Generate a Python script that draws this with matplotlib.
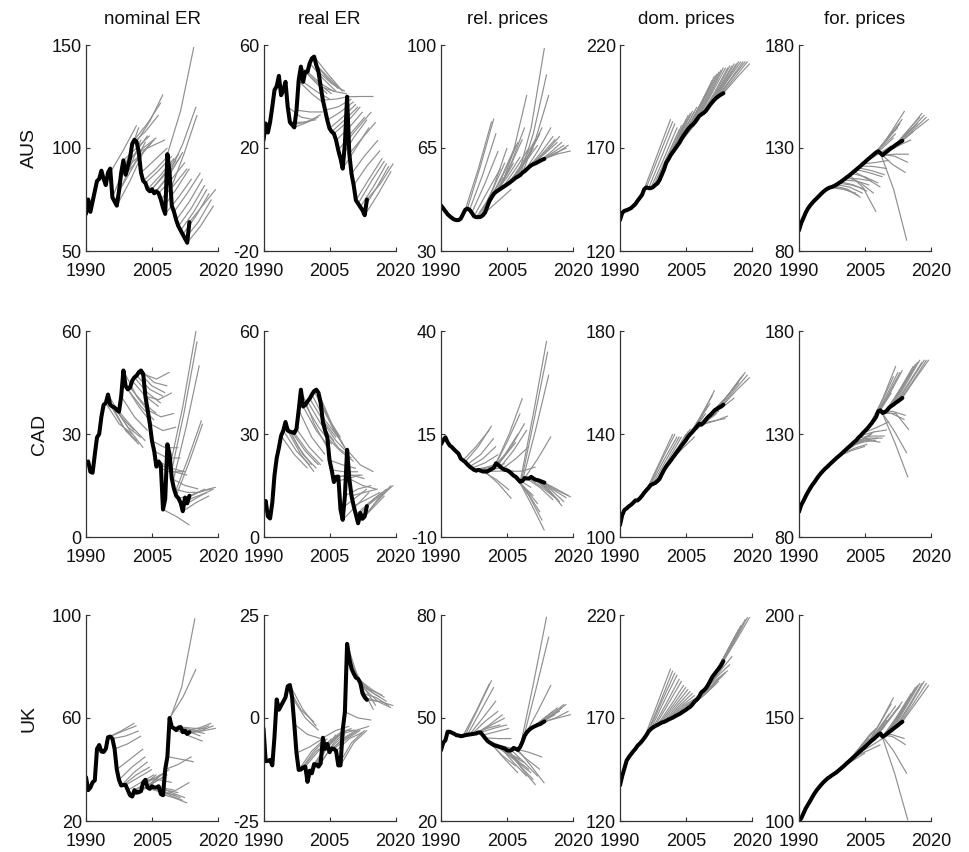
import numpy as np
import matplotlib
matplotlib.use("Agg")
import matplotlib.pyplot as plt

plt.rcParams['font.family'] = ['Liberation Sans', 'DejaVu Sans']
plt.rcParams['axes.unicode_minus'] = False

# ---------------- data ----------------
YEARS = np.arange(1990.0, 2013.51, 0.5)   # half-yearly observations
HORIZON = 6.0                              # forecast horizon (years)

COL_TITLES = ['nominal ER', 'real ER', 'rel. prices', 'dom. prices', 'for. prices']
ROW_LABELS = ['AUS', 'CAD', 'UK']
XTICKS = [1990, 2005, 2020]
YTICKS = [
    [[50, 100, 150], [-20, 20, 60], [30, 65, 100], [120, 170, 220], [80, 130, 180]],
    [[0, 30, 60], [0, 30, 60], [-10, 15, 40], [100, 140, 180], [80, 130, 180]],
    [[20, 60, 100], [-25, 0, 25], [20, 50, 80], [120, 170, 220], [100, 150, 200]],
]

# realised series (black)
AUS_NOM = [68, 75, 69, 74, 79, 84, 85, 89, 85, 82,
           88, 90, 76, 74, 72, 79, 88, 94, 87, 91,
           95, 102, 104, 103, 98, 88, 84, 83, 80, 79,
           80, 78, 79, 78, 75, 71, 68, 97, 88, 72,
           69, 65, 62, 60, 58, 56, 54, 64]
AUS_REAL = [23, 29.5, 26, 30, 36, 42.5, 44, 48, 40.5, 42.5,
            45.7, 36, 30, 29, 28, 34.7, 46.4, 51.6, 45.7, 49.6,
            49.6, 52.9, 54.8, 55.5, 52.2, 49.6, 43.8, 38.6, 34.7, 30.8,
            27.6, 26.3, 25.6, 23, 19.1, 15.9, 12, 21.7, 39.9, 17.8,
            10, 5.5, -0.3, -1.6, -2.9, -4.2, -6.1, 0]
AUS_REL = [45.5, 44.5, 43.5, 42.5, 41.8, 41.2, 40.7, 40.5, 40.5, 41,
           42.5, 44, 44.4, 44, 43, 41.8, 41.5, 41.5, 41.6, 42.1,
           43, 45, 47, 48.3, 49.4, 50.1, 50.6, 51.1, 51.6, 52.1,
           52.6, 53.1, 53.7, 54.3, 54.9, 55.3, 55.8, 56.6, 57.1, 57.8,
           58.5, 59.1, 59.5, 59.8, 60.2, 60.6, 61, 61.3]
AUS_DOM = [135, 138.5, 139.5, 139.8, 140.3, 140.8, 141.8, 142.8, 144.4, 145.8,
           147.2, 150, 150.9, 150.5, 150.5, 151, 152, 152.8, 154.5, 157,
           159.5, 162.8, 164.5, 166.5, 168, 169.5, 171, 172.5, 174.5, 176.2,
           177.7, 179.2, 180.5, 181.3, 182.5, 184, 185.5, 186.3, 187, 188,
           189.5, 191, 192.3, 193.5, 194.5, 195.3, 196, 196.6]
AUS_FOR = [90, 93.5, 96, 98.5, 100.5, 102, 103.3, 104.5, 105.5, 106.6,
           107.7, 108.7, 109.6, 110.3, 110.8, 111.1, 111.6, 112.2, 112.9, 113.6,
           114.4, 115.2, 116, 116.8, 117.7, 118.6, 119.5, 120.4, 121.3, 122.3,
           123.2, 124.2, 125.1, 126, 126.9, 127.8, 128.4, 127.5, 126.5, 127.5,
           128.3, 129.2, 130, 130.7, 131.5, 132.2, 132.9, 133.5]

CAD_NOM = [21.5, 22, 19, 18.7, 24, 29, 30, 35, 38.5, 39,
           41.5, 38.5, 38, 37.7, 37, 36.5, 41, 48.5, 44, 43,
           43.5, 45.5, 46.5, 47, 48, 48.5, 47.5, 41, 37, 33,
           28, 25, 20.5, 22, 21, 8, 11, 27, 24, 17,
           14, 12, 11.3, 10, 7.5, 11.5, 9.8, 12]
CAD_REAL = [8.8, 10.5, 6, 5.4, 10, 18, 23, 26, 29.5, 31,
            33.5, 31, 30.7, 30.5, 30.3, 31.5, 37, 42.9, 38, 38.5,
            39.5, 40.3, 41.5, 42.5, 42.9, 42, 39, 33.5, 31, 29,
            22.4, 19.5, 16, 17.5, 17.6, 8, 5, 12, 25.4, 17,
            12, 9, 6.5, 4, 7, 5.3, 6, 9]
CAD_REL = [12.5, 13.5, 14.2, 13, 12.2, 11.8, 11.2, 10.7, 10.2, 9,
           8.6, 8.2, 7.6, 7.1, 6.7, 6.3, 6.1, 6.3, 6.1, 5.9,
           5.9, 5.9, 6.2, 6.5, 6.8, 7.9, 7.5, 7, 6.6, 6.3,
           6.2, 5.9, 5.4, 4.9, 4.6, 4, 3.4, 3.6, 4.3, 4.2,
           4.2, 4.6, 4.2, 3.9, 3.8, 3.6, 3.4, 3.2]
CAD_DOM = [104.6, 108.5, 110.5, 111.1, 111.9, 112.5, 113.3, 114.2, 114.2, 115,
           116, 117.2, 118.2, 119.1, 120.2, 120.6, 121, 121.7, 122.6, 124.4,
           126, 127.4, 128.5, 129.6, 130.8, 132, 133.2, 134.3, 135.5, 136.6,
           137.7, 139, 140, 140.9, 141.9, 142.9, 144, 143.6, 144.4, 145.5,
           146.6, 147.3, 148.2, 149.2, 149.7, 150.3, 150.7, 151.4]
CAD_FOR = [92.2, 95.5, 97.5, 99.7, 101.7, 103.5, 105.2, 106.6, 108.2, 109.7,
           111, 112.2, 113.3, 114.2, 115.3, 116.3, 117.3, 118.3, 119.2, 120.1,
           121.1, 122.1, 123.1, 124, 125, 126, 126.9, 128.2, 129.2, 130.4,
           131.5, 132.6, 133.9, 135.2, 136.7, 138.2, 141, 141.5, 140.2, 140.6,
           141.5, 142.8, 143.6, 144.3, 145.2, 145.9, 146.7, 147.5]

UK_NOM = [37, 32, 33, 35, 35.8, 48, 49.5, 47, 46.8, 48,
          52.5, 52.8, 52, 48, 40, 36, 33.8, 34, 34, 32,
          30, 29.5, 32, 31, 31.2, 31.6, 35, 36, 33, 32.5,
          33.5, 33, 33, 33.5, 30.5, 30, 40, 45, 60, 56.5,
          56, 55.3, 56.3, 56.5, 54.5, 55, 53.8, 54.5]
UK_REAL = [-2.5, -10.5, -10.4, -10.2, -11.5, -4.5, 4.5, 2, 3, 4,
           5, 7.7, 8, 5, -1.5, -8.5, -12.6, -12.5, -12, -11.8,
           -15.5, -12.8, -13.4, -11.2, -11.3, -11.8, -11, -4.8, -7.5, -6.3,
           -8.3, -7.4, -7.5, -8, -11.5, -11.5, -3, 1.5, 18, 14.5,
           12, 10.8, 9.8, 9.5, 8.5, 6, 5, 4.4]
UK_REL = [40.6, 42.8, 43.5, 46, 46, 45.7, 45.4, 45, 44.9, 44.7,
          44.8, 45, 45.1, 45.2, 45.3, 45.4, 45.5, 45.8, 45.8, 45,
          44.2, 43.4, 42.9, 42.5, 42.1, 41.9, 41.7, 41.5, 41.3, 41.1,
          40.6, 40.5, 40.6, 41.3, 41, 40.7, 41.6, 43, 44.8, 45.8,
          46.5, 47, 47.4, 47.7, 48, 48.2, 48.6, 49]
UK_DOM = [137.3, 141.8, 145.5, 149.3, 151, 152.4, 153.8, 155, 156.6, 157.6,
          158.8, 160.2, 161.7, 163.5, 164.6, 165.4, 166.1, 166.6, 167.2, 167.8,
          168.1, 168.6, 169.2, 169.7, 170.2, 170.8, 171.4, 171.9, 172.6, 173.3,
          174, 174.8, 175.5, 176.7, 178.1, 179, 180.5, 182.5, 183.3, 184.4,
          186, 188, 190, 191.4, 192.8, 194.1, 195.6, 197.6]
UK_FOR = [100, 101.3, 103.6, 106, 107.8, 109.6, 111.5, 113.3, 114.9, 116.2,
          117.5, 118.7, 119.7, 120.7, 121.4, 122.2, 122.9, 123.6, 124.5, 125.4,
          126.3, 127.3, 128.3, 129.2, 130.2, 131.1, 132.1, 133.1, 134.1, 135,
          136, 137, 138, 139, 139.8, 140.8, 141.8, 142.5, 140.9, 141.5,
          142.4, 143.2, 144, 144.9, 145.7, 146.5, 147.4, 148.2]

# forecast paths (grey): (origin year, value at origin, value at +3y, value at +6y)
AUS_NOM_FC = [(1995.5, 88, 99, 111), (1996.0, 76, 92, 110), (1996.5, 74, 88, 104),
              (1997.0, 72, 84, 98), (1997.5, 79, 90, 103), (1998.0, 88, 97, 106),
              (1998.5, 94, 100, 106), (1999.0, 87, 95, 103), (1999.5, 91, 97, 104),
              (2000.0, 95, 100, 105), (2000.5, 102, 108, 116), (2001.0, 104, 112, 122),
              (2001.5, 103, 113, 126), (2002.0, 98, 101, 104), (2002.5, 88, 94, 100),
              (2003.0, 84, 90, 97), (2003.5, 83, 89, 96), (2004.0, 80, 87, 95),
              (2004.5, 79, 86, 94), (2005.0, 80, 88, 97), (2005.5, 78, 86, 96),
              (2006.0, 79, 87, 98), (2006.5, 78, 85, 93), (2007.0, 75, 82, 90),
              (2007.5, 71, 80, 90), (2008.0, 68, 76, 85), (2008.5, 97, 118, 149),
              (2009.0, 88, 102, 120), (2009.25, 80, 97, 116), (2010.0, 69, 78, 88),
              (2010.5, 65, 74, 85), (2011.0, 62, 71, 82), (2011.5, 60, 69, 80),
              (2012.0, 58, 67, 78), (2012.5, 56, 64, 75), (2013.0, 54, 62, 72),
              (2013.5, 64, 72, 80)]
AUS_REAL_FC = [(1995.5, 36, 32, 31), (1996.0, 30, 30, 31), (1996.5, 29, 30, 32),
               (1997.0, 28, 30, 33), (1997.5, 34.7, 34, 34), (1998.0, 46, 41, 37),
               (1998.5, 51.6, 46, 41), (1999.0, 45.7, 42, 39), (1999.5, 49.6, 45, 41),
               (2000.0, 49.6, 45, 42), (2000.5, 52.9, 47, 42), (2001.0, 54.8, 48, 43),
               (2001.5, 55.5, 49, 43), (2002.0, 52.2, 47, 42), (2002.5, 49.6, 45, 42),
               (2003.0, 43.8, 42, 41), (2003.5, 38.6, 39, 40), (2004.0, 34.7, 36, 39),
               (2004.5, 30.8, 34, 38), (2005.0, 27.6, 32, 37), (2005.5, 26.3, 31, 36),
               (2006.0, 25.6, 30, 36), (2006.5, 23, 28, 34), (2007.0, 19.1, 26, 32),
               (2007.5, 15.9, 24, 31), (2008.0, 12, 20, 28), (2008.5, 21.7, 28, 34),
               (2009.0, 39.9, 40, 40), (2009.5, 17.8, 24, 30), (2010.0, 10, 17, 23),
               (2010.5, 5.5, 13, 19), (2011.0, -0.3, 8, 16), (2011.5, -1.6, 7, 15),
               (2012.0, -2.9, 5, 14), (2012.5, -4.2, 4, 13), (2013.0, -6.1, 2, 11),
               (2013.5, 0, 6, 14)]
AUS_REL_FC = [(1995.5, 44, 58, 74), (1996.0, 44.4, 59, 75), (1996.5, 44, 56, 70),
              (1997.0, 43, 53, 64), (1997.5, 41.8, 50, 58), (1998.0, 41.5, 48, 55),
              (1998.5, 41.5, 50, 60), (1999.0, 41.6, 52, 65), (1999.5, 42.1, 50, 58),
              (2000.0, 43, 47, 51), (2000.5, 45, 52, 60), (2001.0, 47, 56, 66),
              (2001.5, 48.3, 57, 67), (2002.0, 49.4, 55, 62), (2002.5, 50.1, 58, 68),
              (2003.0, 50.6, 60, 72), (2003.5, 51.1, 64, 83), (2004.0, 51.6, 58, 65),
              (2004.5, 52.1, 57, 63), (2005.0, 52.6, 58, 65), (2005.5, 53.1, 60, 68),
              (2006.0, 53.7, 60, 66), (2006.5, 54.3, 61, 70), (2007.0, 54.9, 63, 72),
              (2007.5, 55.3, 72, 99), (2008.0, 55.8, 70, 90), (2008.5, 56.6, 68, 83),
              (2009.0, 57.1, 64, 72), (2009.5, 57.8, 63, 69), (2010.0, 58.5, 63, 68),
              (2010.5, 59.1, 63, 67), (2011.0, 59.5, 64, 69), (2011.5, 59.8, 63, 67),
              (2012.0, 60.2, 63, 66), (2012.5, 60.6, 63, 65), (2013.0, 61, 63, 66),
              (2013.5, 61.3, 63, 64)]
AUS_DOM_FC = [(1995.5, 150, 167, 184), (1996.0, 150.9, 167, 183), (1996.5, 150.5, 166, 182),
              (1997.0, 150.5, 165, 180), (1997.5, 151, 165, 179), (1998.0, 152, 166, 181),
              (1998.5, 152.8, 167, 182), (1999.0, 154.5, 169, 184), (1999.5, 157, 171, 186),
              (2000.0, 159.5, 173, 187), (2000.5, 162.8, 175, 188), (2001.0, 164.5, 176, 188),
              (2001.5, 166.5, 178, 190), (2002.0, 168, 176, 184), (2002.5, 169.5, 180, 191),
              (2003.0, 171, 182, 193), (2003.5, 172.5, 184, 196), (2004.0, 174.5, 186, 198),
              (2004.5, 176.2, 188, 200), (2005.0, 177.7, 190, 203), (2005.5, 179.2, 192, 205),
              (2006.0, 180.5, 193, 206), (2006.5, 181.3, 194, 207), (2007.0, 182.5, 195, 208),
              (2007.5, 184, 196, 209), (2008.0, 185.5, 197, 209), (2008.5, 186.3, 197, 209),
              (2009.0, 187, 198, 210), (2009.5, 188, 199, 210), (2010.0, 189.5, 200, 211),
              (2010.5, 191, 201, 211), (2011.0, 192.3, 202, 212), (2011.5, 193.5, 203, 212),
              (2012.0, 194.5, 203, 212), (2012.5, 195.3, 204, 212), (2013.0, 196, 204, 212),
              (2013.5, 196.6, 204, 211)]
AUS_FOR_FC = [(1997.0, 110.8, 110, 108), (1997.5, 111.1, 110, 107), (1998.0, 111.6, 110, 106),
              (1998.5, 112.2, 111, 108), (1999.0, 112.9, 112, 110), (1999.5, 113.6, 112, 109),
              (2000.0, 114.4, 114, 112), (2000.5, 115.2, 115, 114), (2001.0, 116, 113, 108),
              (2001.5, 116.8, 111, 99), (2002.0, 117.7, 116, 113), (2002.5, 118.6, 115, 111),
              (2003.0, 119.5, 118, 116), (2003.5, 120.4, 119, 117), (2004.0, 121.3, 121, 120),
              (2004.5, 122.3, 123, 124), (2005.0, 123.2, 127, 131), (2005.5, 124.2, 129, 135),
              (2006.0, 125.1, 131, 137), (2006.5, 126, 133, 140), (2007.0, 126.9, 134, 142),
              (2007.5, 127.8, 136, 144), (2008.0, 128.4, 138, 148), (2008.25, 128, 122, 118),
              (2008.5, 127.5, 110, 85), (2008.75, 127, 126, 123), (2009.0, 126.5, 127, 127),
              (2009.5, 127.5, 131, 134), (2010.0, 128.3, 133, 138), (2010.5, 129.2, 135, 141),
              (2011.0, 130, 136, 142), (2011.5, 130.7, 138, 145), (2012.0, 131.5, 139, 147),
              (2012.5, 132.2, 139, 146), (2013.0, 132.9, 139, 145), (2013.5, 133.5, 139, 144)]

CAD_NOM_FC = [(1994.5, 39, 33, 30), (1995.0, 41.5, 35, 31), (1995.5, 38.5, 32, 28),
              (1996.0, 38, 31, 27), (1996.5, 37.7, 32, 29), (1997.0, 37, 31, 26),
              (1997.5, 36.5, 32, 28), (1998.0, 41, 35, 31), (1998.5, 48.5, 41, 36),
              (1999.0, 44, 38, 33), (1999.5, 43, 38, 34), (2000.0, 43.5, 39, 36),
              (2000.5, 45.5, 41, 38), (2001.0, 46.5, 42, 39), (2001.5, 47, 43, 41),
              (2002.0, 48, 44, 42), (2002.5, 48.5, 45, 44), (2003.0, 47.5, 46, 48),
              (2003.5, 41, 40, 42), (2004.0, 37, 35, 36), (2004.5, 33, 31, 32),
              (2005.0, 28, 26, 26), (2005.5, 25, 23, 23), (2006.0, 20.5, 19, 19),
              (2006.5, 22, 20, 19), (2007.0, 21, 19, 18), (2007.5, 8, 6, 3.5),
              (2009.0, 20, 38, 60), (2009.25, 18, 36, 57), (2009.75, 16, 32, 50),
              (2010.25, 13, 23, 34), (2010.5, 12, 22, 33), (2009.5, 17, 15, 14),
              (2010.0, 14, 13, 13), (2011.0, 11.3, 12, 14), (2011.5, 10, 11.5, 13),
              (2012.0, 7.5, 10, 12), (2012.5, 11.5, 13, 14), (2013.0, 9.8, 12, 14),
              (2013.5, 12, 13.5, 14.5)]
CAD_REAL_FC = [(1994.0, 29.5, 24, 20), (1994.5, 31, 25, 21), (1995.0, 33.5, 26, 21),
               (1995.5, 31, 24, 19), (1996.0, 30.7, 24, 20), (1996.5, 30.5, 25, 21),
               (1997.0, 30.3, 25, 21), (1997.5, 31.5, 26, 22), (1998.0, 37, 29, 24),
               (1998.5, 42.9, 33, 26), (1999.0, 38, 31, 26), (1999.5, 38.5, 32, 27),
               (2000.0, 39.5, 33, 28), (2000.5, 40.3, 34, 29), (2001.0, 41.5, 34, 29),
               (2001.5, 42.5, 35, 29), (2002.0, 42.9, 34, 27), (2002.5, 42, 33, 26),
               (2003.0, 39, 31, 25), (2003.5, 33.5, 28, 24), (2004.0, 31, 26, 23),
               (2004.5, 29, 25, 22), (2005.0, 22.4, 21, 20), (2005.5, 19.5, 19, 19),
               (2006.0, 16, 17, 18), (2006.5, 17.5, 18, 18), (2007.0, 17.6, 18, 17),
               (2007.5, 8, 11, 14), (2008.0, 5, 9, 13), (2008.5, 12, 14, 15),
               (2009.0, 25.4, 21, 19), (2009.5, 17, 15, 14), (2010.0, 12, 13, 14),
               (2010.5, 9, 11, 13), (2011.0, 6.5, 10, 13), (2011.5, 4, 8, 12),
               (2012.0, 7, 11, 14), (2012.5, 5.3, 10, 14), (2013.0, 6, 11, 15),
               (2013.5, 9, 12, 15)]
CAD_REL_FC = [(1995.0, 8.6, 12, 16), (1995.5, 8.2, 12, 17), (1996.0, 7.6, 10, 14),
              (1996.5, 7.1, 9, 12), (1997.0, 6.7, 8, 10), (1997.5, 6.3, 7, 8),
              (1998.0, 6.1, 6.5, 7.5), (1998.5, 6.3, 7, 7.8), (1999.0, 6.1, 6.5, 7),
              (1999.5, 5.9, 4, 1.4), (2000.0, 5.9, 3, -0.7), (2000.5, 5.9, 6, 6),
              (2001.0, 6.2, 9, 13), (2001.5, 6.5, 10, 15), (2002.0, 6.8, 13, 20),
              (2002.5, 7.9, 15, 23.7), (2003.0, 7.5, 12, 17.6), (2003.5, 7, 11, 16),
              (2004.0, 6.6, 9, 12), (2004.5, 6.3, 4, 2), (2005.0, 6.2, 3, 0),
              (2005.5, 5.9, 6, 7), (2006.0, 5.4, 2, -2), (2006.5, 4.9, 1, -4),
              (2007.0, 4.6, 0, -6), (2007.5, 4, -2, -8.4), (2008.0, 3.4, 20, 37.6),
              (2008.25, 3.5, 19, 35), (2008.5, 3.6, 16, 29.4), (2009.0, 4.3, 9, 14.4),
              (2009.5, 4.2, 2, -1), (2010.0, 4.2, 2, -0.5), (2010.5, 4.6, 2, -1),
              (2011.0, 4.2, 2, -1.5), (2011.5, 3.9, 1.5, -2.5), (2012.0, 3.8, 1.5, -1.5),
              (2012.5, 3.6, 1.5, -0.5), (2013.0, 3.4, 1.5, 0), (2013.5, 3.2, 1.5, -0.3)]
CAD_DOM_FC = [(1996.0, 118.2, 129, 140), (1996.5, 119.1, 130, 140), (1997.0, 120.2, 130, 139),
              (1997.5, 120.6, 130, 139), (1998.0, 121, 130, 139), (1998.5, 121.7, 130, 138),
              (1999.0, 122.6, 131, 140), (1999.5, 124.4, 133, 141), (2000.0, 126, 134, 142),
              (2000.5, 127.4, 135, 142), (2001.0, 128.5, 134, 139), (2001.5, 129.6, 136, 143),
              (2002.0, 130.8, 138, 145), (2002.5, 132, 139, 146), (2003.0, 133.2, 140, 147),
              (2003.5, 134.3, 141, 148), (2004.0, 135.5, 143, 151), (2004.5, 136.6, 144, 152),
              (2005.0, 137.7, 146, 155), (2005.5, 139, 147, 157), (2006.0, 140, 144, 148),
              (2006.5, 140.9, 145, 149), (2007.0, 141.9, 147, 152), (2007.5, 142.9, 148, 153),
              (2008.0, 144, 145, 146), (2008.5, 143.6, 145, 147), (2009.0, 144.4, 150, 156),
              (2009.5, 145.5, 151, 157), (2010.0, 146.6, 150, 154), (2010.5, 147.3, 153, 159),
              (2011.0, 148.2, 154, 160), (2011.5, 149.2, 155, 162), (2012.0, 149.7, 156, 163),
              (2012.5, 150.3, 157, 164), (2013.0, 150.7, 157, 163), (2013.5, 151.4, 157, 162)]
CAD_FOR_FC = [(1999.0, 119.2, 122, 124), (1999.5, 120.1, 123, 125), (2000.0, 121.1, 125, 128),
              (2000.5, 122.1, 126, 130), (2001.0, 123.1, 127, 131), (2001.5, 124, 126, 127),
              (2002.0, 125, 127, 128), (2002.5, 126, 127, 126), (2003.0, 126.9, 128, 128),
              (2003.5, 128.2, 129, 129), (2004.0, 129.2, 131, 132), (2004.5, 130.4, 133, 136),
              (2005.0, 131.5, 140, 150), (2005.5, 132.6, 144, 158), (2006.0, 133.9, 147, 163),
              (2006.5, 135.2, 147, 160), (2007.0, 136.7, 148, 160), (2007.5, 138.2, 149, 161),
              (2008.0, 141, 140, 137), (2008.25, 141.3, 141, 139), (2008.5, 141.5, 132, 120.7),
              (2008.75, 141, 126, 109), (2009.0, 140.2, 140, 132), (2009.5, 140.6, 150, 160),
              (2010.0, 141.5, 152, 163), (2010.5, 142.8, 153, 164), (2011.0, 143.6, 154, 165),
              (2011.5, 144.3, 155, 166), (2012.0, 145.2, 155, 165), (2012.5, 145.9, 156, 166),
              (2013.0, 146.7, 156, 166), (2013.5, 147.5, 157, 166)]

UK_NOM_FC = [(1995.0, 52.5, 55, 58), (1995.5, 52.8, 55, 57), (1996.0, 52, 53, 55),
             (1996.5, 48, 50, 53), (1997.0, 40, 44, 48), (1997.5, 36, 41, 45),
             (1998.0, 33.8, 39, 43), (1998.5, 34, 38, 41), (1999.0, 34, 37, 40),
             (1999.5, 32, 35, 38), (2000.0, 30, 34, 38), (2000.5, 29.5, 33, 37),
             (2001.0, 32, 35, 38), (2001.5, 31, 34, 37), (2002.0, 31.2, 35, 39),
             (2002.5, 31.6, 35, 38), (2003.0, 35, 37, 40), (2003.5, 36, 36, 35),
             (2004.0, 33, 33, 32), (2004.5, 32.5, 31, 30), (2005.0, 33.5, 32, 31),
             (2005.5, 33, 31, 29), (2006.0, 33, 30, 28), (2006.5, 33.5, 31, 29),
             (2007.0, 30.5, 29, 27), (2007.5, 30, 32, 35), (2008.0, 40, 42, 45),
             (2008.5, 45, 44, 43), (2008.75, 58, 72, 98.7), (2009.0, 60, 68, 79),
             (2009.5, 56.5, 56, 55), (2010.0, 56, 55, 53), (2010.5, 55.3, 53, 51),
             (2011.0, 56.3, 55, 54), (2011.5, 56.5, 56, 56), (2012.0, 54.5, 55, 57),
             (2012.5, 55, 56, 58), (2013.0, 53.8, 55, 57), (2013.5, 54.5, 55, 56)]
UK_REAL_FC = [(1995.5, 7.7, 2, -1), (1996.0, 8, 2, -2), (1996.5, 5, 0, -3),
              (1997.0, -1.5, -4, -5), (1997.5, -8.5, -7, -5), (1998.0, -12.6, -8, -5),
              (1998.5, -12.5, -8, -5), (1999.0, -12, -8, -6), (1999.5, -11.8, -8, -5),
              (2000.0, -15.5, -9, -5), (2000.5, -12.8, -8, -4), (2001.0, -13.4, -8, -4),
              (2001.5, -11.2, -7, -4), (2002.0, -11.3, -6, -3), (2002.5, -11.8, -7, -4),
              (2003.0, -11, -6, -3), (2003.5, -4.8, -3, -2), (2004.0, -7.5, -4, -2.5),
              (2004.5, -6.3, -4, -3), (2005.0, -8.3, -5, -3), (2005.5, -7.4, -5, -3),
              (2006.0, -7.5, -5, -3), (2006.5, -8, -5, -3.5), (2007.0, -11.5, -6, -3),
              (2007.5, -11.5, -6, -3), (2008.0, -3, -3, -2), (2008.5, 1.5, 0, -0.5),
              (2009.0, 18, 8, 2), (2009.5, 14.5, 8, 3), (2010.0, 12, 7, 4),
              (2010.5, 10.8, 7, 5), (2011.0, 9.8, 7, 5.5), (2011.5, 9.5, 7, 5),
              (2012.0, 8.5, 6, 4), (2012.5, 6, 5, 3), (2013.0, 5, 4, 2.5),
              (2013.5, 4.4, 4, 3)]
UK_REL_FC = [(1995.0, 44.8, 52, 60), (1995.5, 45, 53, 61), (1996.0, 45.1, 52, 59),
             (1996.5, 45.2, 50, 55), (1997.0, 45.3, 49, 52), (1997.5, 45.4, 47, 48),
             (1998.0, 45.5, 48, 51), (1998.5, 45.8, 48, 50), (1999.0, 45.8, 47, 48),
             (1999.5, 45, 46, 47), (2000.0, 44.2, 44, 44), (2000.5, 43.4, 42, 41),
             (2001.0, 42.9, 39, 36), (2001.5, 42.5, 38, 34), (2002.0, 42.1, 40, 38),
             (2002.5, 41.9, 39, 36), (2003.0, 41.7, 39, 37), (2003.5, 41.5, 37, 33),
             (2004.0, 41.3, 38, 35), (2004.5, 41.1, 37, 34), (2005.0, 40.6, 36, 32),
             (2005.5, 40.5, 35, 30.5), (2006.0, 40.6, 37, 33), (2006.5, 41.3, 38, 35),
             (2007.0, 41, 40, 38.6), (2007.5, 40.7, 36, 31), (2008.0, 41.6, 60, 79.5),
             (2008.5, 43, 58, 73.7), (2009.0, 44.8, 52, 59.6), (2009.5, 45.8, 49, 52),
             (2010.0, 46.5, 49, 51), (2010.5, 47, 50, 53), (2011.0, 47.4, 50, 52),
             (2011.5, 47.7, 50, 53), (2012.0, 48, 51, 54), (2012.5, 48.2, 51, 54),
             (2013.0, 48.6, 50, 52), (2013.5, 49, 50, 51)]
UK_DOM_FC = [(1995.5, 160.2, 177, 194), (1996.0, 161.7, 177, 193), (1996.5, 163.5, 178, 192),
             (1997.0, 164.6, 178, 191), (1997.5, 165.4, 177, 189), (1998.0, 166.1, 177, 188),
             (1998.5, 166.6, 176, 186), (1999.0, 167.2, 176, 185), (1999.5, 167.8, 176, 184),
             (2000.0, 168.1, 176, 183), (2000.5, 168.6, 176, 182), (2001.0, 169.2, 176, 181),
             (2001.5, 169.7, 176, 180), (2002.0, 170.2, 176, 180), (2002.5, 170.8, 176, 180),
             (2003.0, 171.4, 177, 181), (2003.5, 171.9, 177, 182), (2004.0, 172.6, 178, 183),
             (2004.5, 173.3, 179, 184), (2005.0, 174, 180, 185), (2005.5, 174.8, 180, 186),
             (2006.0, 175.5, 181, 187), (2006.5, 176.7, 182, 188), (2007.0, 178.1, 184, 190),
             (2007.5, 179, 185, 191), (2008.0, 180.5, 186, 192), (2008.5, 182.5, 188, 193),
             (2009.0, 183.3, 190, 196), (2009.5, 184.4, 192, 200), (2010.0, 186, 197, 209),
             (2010.5, 188, 199, 211), (2011.0, 190, 201, 213), (2011.5, 191.4, 203, 215),
             (2012.0, 192.8, 204, 216), (2012.5, 194.1, 206, 218), (2013.0, 195.6, 207, 219),
             (2013.5, 197.6, 208, 219)]
UK_FOR_FC = [(1996.0, 119.7, 125, 130), (1996.5, 120.7, 126, 131), (1997.0, 121.4, 127, 133),
             (1997.5, 122.2, 128, 134), (1998.0, 122.9, 129, 135), (1998.5, 123.6, 129, 134),
             (1999.0, 124.5, 129, 133), (1999.5, 125.4, 131, 136), (2000.0, 126.3, 133, 140),
             (2000.5, 127.3, 135, 143), (2001.0, 128.3, 136, 144), (2001.5, 129.2, 137, 145),
             (2002.0, 130.2, 136, 142), (2002.5, 131.1, 134, 137), (2003.0, 132.1, 136, 140),
             (2003.5, 133.1, 139, 146), (2004.0, 134.1, 141, 149), (2004.5, 135, 143, 152),
             (2005.0, 136, 146, 157), (2005.5, 137, 148, 160), (2006.0, 138, 147, 156),
             (2006.5, 139, 147, 155), (2007.0, 139.8, 148, 156), (2007.5, 140.8, 149, 158),
             (2008.0, 141.8, 142, 140), (2008.25, 142, 141, 137), (2008.5, 142.5, 134, 123),
             (2008.75, 142, 123, 100.3), (2009.0, 140.9, 150, 160), (2009.5, 141.5, 151, 162),
             (2010.0, 142.4, 152, 163), (2010.5, 143.2, 154, 165), (2011.0, 144, 155, 166),
             (2011.5, 144.9, 156, 167), (2012.0, 145.7, 156, 167), (2012.5, 146.5, 157, 168),
             (2013.0, 147.4, 157, 167), (2013.5, 148.2, 157, 166)]

ACTUAL = [[AUS_NOM, AUS_REAL, AUS_REL, AUS_DOM, AUS_FOR],
          [CAD_NOM, CAD_REAL, CAD_REL, CAD_DOM, CAD_FOR],
          [UK_NOM, UK_REAL, UK_REL, UK_DOM, UK_FOR]]
FORECASTS = [[AUS_NOM_FC, AUS_REAL_FC, AUS_REL_FC, AUS_DOM_FC, AUS_FOR_FC],
             [CAD_NOM_FC, CAD_REAL_FC, CAD_REL_FC, CAD_DOM_FC, CAD_FOR_FC],
             [UK_NOM_FC, UK_REAL_FC, UK_REL_FC, UK_DOM_FC, UK_FOR_FC]]

# ---------------- layout ----------------
W, H = 969, 852
fig = plt.figure(figsize=(W / 100, H / 100), dpi=100)
col_left = [86, 263.5, 441, 620, 799]
row_bottom = [251, 537, 821]
ax_w, ax_h = 132, 206
AXCOL = '0.2'
FS = 13

for r in range(3):
    for c in range(5):
        ax = fig.add_axes([col_left[c] / W, 1 - row_bottom[r] / H, ax_w / W, ax_h / H])
        for (o, v0, v3, v6) in FORECASTS[r][c]:
            ax.plot([o, o + HORIZON / 2, o + HORIZON], [v0, v3, v6],
                    color='0.56', lw=0.85, solid_capstyle='butt')
        ax.plot(YEARS, ACTUAL[r][c], color='black', lw=2.9,
                solid_joinstyle='round', solid_capstyle='round')
        yt = YTICKS[r][c]
        ax.set_xlim(1990, 2020)
        ax.set_ylim(yt[0], yt[-1])
        ax.set_xticks(XTICKS)
        ax.set_yticks(yt)
        for s in ['top', 'right']:
            ax.spines[s].set_visible(False)
        for s in ['left', 'bottom']:
            ax.spines[s].set_color(AXCOL)
            ax.spines[s].set_linewidth(0.9)
        ax.tick_params(axis='both', direction='in', length=3, width=0.8,
                       color=AXCOL, labelsize=FS, labelcolor='#111111')
        ax.tick_params(axis='x', pad=8.5)
        ax.tick_params(axis='y', pad=3)
        if c == 0:
            ax.set_ylabel(ROW_LABELS[r], fontsize=FS + 1, labelpad=10, color='#111111')
        if r == 0:
            fig.text((col_left[c] + ax_w / 2) / W, 1 - 20 / H, COL_TITLES[c],
                     ha='center', va='center', fontsize=FS + 0.5, color='#111111')

fig.savefig('out.png', dpi=100)
